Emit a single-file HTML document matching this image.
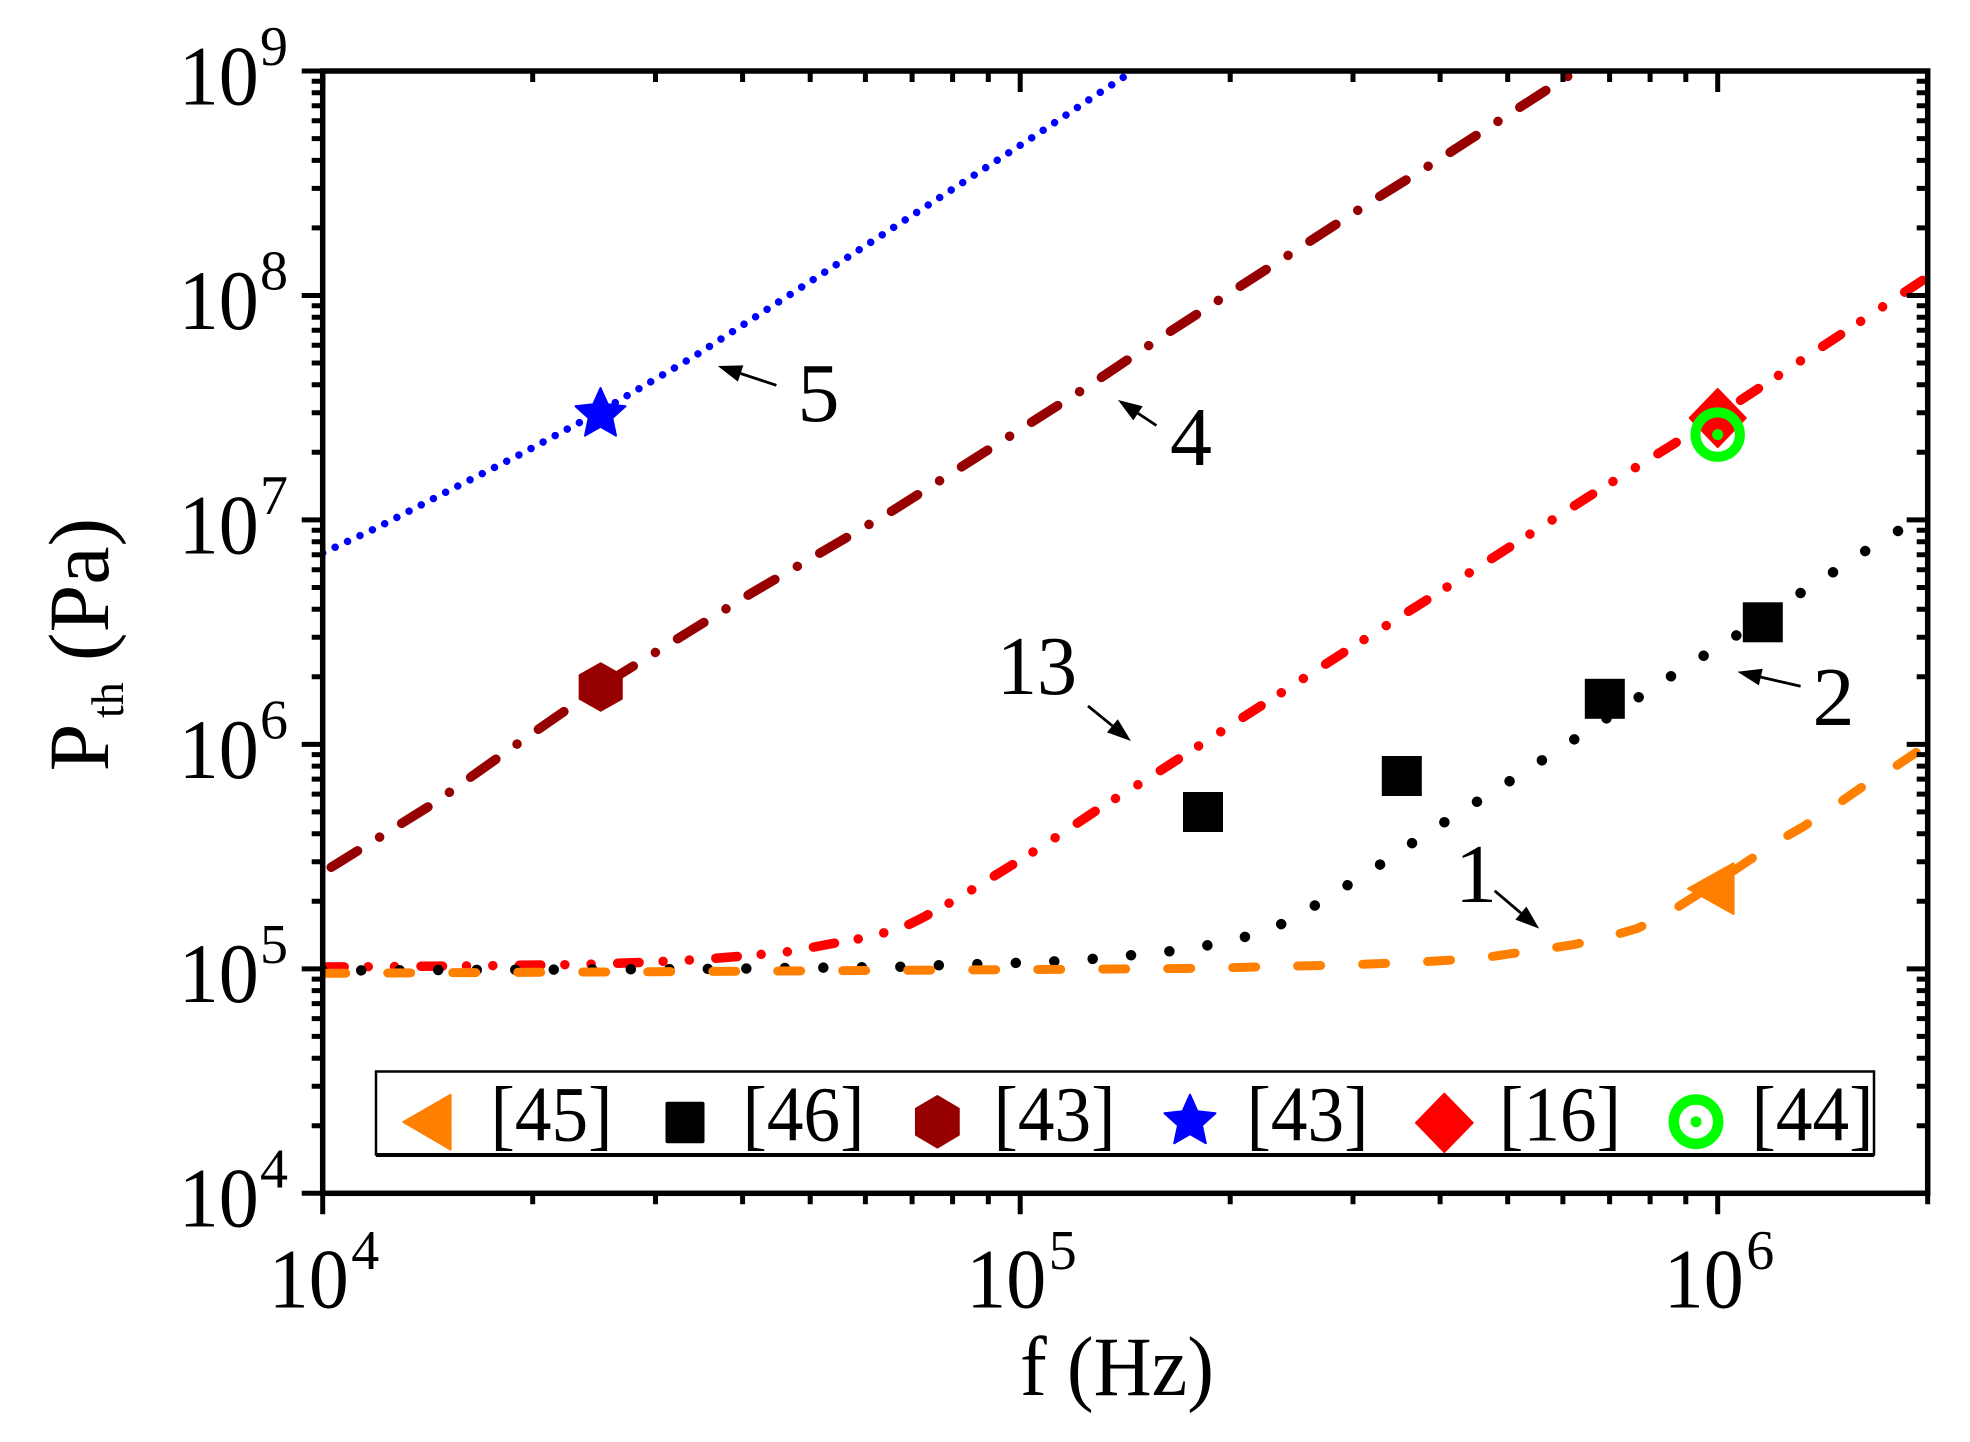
<!DOCTYPE html>
<html>
<head>
<meta charset="utf-8">
<style>
html,body{margin:0;padding:0;background:#fff;}
svg{display:block;}
text{font-family:"Liberation Serif","Times New Roman",serif;fill:#000;}
</style>
</head>
<body>
<svg xmlns="http://www.w3.org/2000/svg" width="1970" height="1442" viewBox="0 0 1970 1442">
<rect x="0" y="0" width="1970" height="1442" fill="#fff"/>
<defs>
<clipPath id="pa"><rect x="322.7" y="71" width="1605" height="1122.3"/></clipPath>
</defs>

<!-- curves -->
<g clip-path="url(#pa)" fill="none" stroke-linecap="round" stroke-linejoin="round">
<path stroke="#0000ff" stroke-width="7.5" stroke-dasharray="0.01 13.7" d="M322.7,553 L377.4,527.5 L452,489 L518,455.5 L600.1,411.5 L693.1,357 L808,283 L922.8,208.5 L1037.6,134 L1093.6,96.7 L1133,71 L1140,66"/>
<path stroke="#960000" stroke-width="9.5" stroke-dasharray="31 26 0.01 26" stroke-dashoffset="-10" d="M322.7,872.5 L338.4,862.8 L434.8,802.7 L520,742 L600.1,686.6 L750,594 L894,509.8 L1090,385 L1159.6,338.3 L1229.3,293.3 L1299,248.3 L1368.6,203.3 L1438.2,160 L1507.9,115 L1576,71 L1590,62"/>
<path stroke="#ff0000" stroke-width="9.5" stroke-dasharray="21.5 24 0.01 26.3 0.01 26.5" d="M322.7,967 L400,966.5 L500,965.5 L580,964.5 L640,962.5 L700,959.5 L750,955.5 L790,951.5 L830,944 L866,937.5 L891,931 L910,924 L923,917.5 L940,908 L955,900 L975.6,887.5 L1008.8,867 L1039.4,848 L1070,828 L1100,808 L1148,778.5 L1260.7,706 L1343.7,652.5 L1426.7,600 L1509.7,547 L1592.8,494 L1678.5,441 L1761.5,386.5 L1844.5,332 L1927.7,277 L1940,269"/>
<path stroke="#000000" stroke-width="10.5" stroke-dasharray="0.01 38.5" d="M322.7,970.5 L700,969 L907,966.7 L945,965 L983,964 L1023,962.7 L1062,961 L1101,958.3 L1178,950.4 L1215,944 L1252.6,935 L1288.5,921.4 L1320.7,902 L1355.5,880.2 L1387.6,859.8 L1420.3,837.5 L1452.4,817.1 L1485.6,796.3 L1517.8,776 L1551.5,754.1 L1583.7,733.3 L1648,691.1 L1679.5,670.8 L1712.2,650.4 L1744.3,630.5 L1811.3,585.9 L1844.5,565.1 L1876.6,543.3 L1910.4,523.9 L1927.7,513 L1940,505"/>
<path stroke="#ff8000" stroke-width="9" stroke-dasharray="23 42" d="M322.7,973.3 L700,971.5 L1065,969.3 L1145,968.8 L1212,968.2 L1277,966.4 L1344,965 L1410,962.5 L1478,958.5 L1510,953.8 L1542,949.5 L1574,944.6 L1606,937.4 L1637,928.6 L1665,915 L1700,893 L1720,880 L1748,861 L1777.5,841.4 L1803,826.8 L1834,806.5 L1860.6,788 L1887.3,772 L1916.8,752 L1927.7,745 L1940,737"/>
</g>

<!-- plot markers -->
<g stroke-linejoin="round">
<polygon fill="#0000ff" stroke="#0000ff" stroke-width="2" points="600.5,388 607.8,404.3 625.5,406.2 612.3,418.1 616,435.6 600.5,426.7 585,435.6 588.7,418.1 575.5,406.2 593.2,404.3"/>
<polygon fill="#960000" stroke="#960000" stroke-width="1.5" points="600.7,663 622,675 622,699 600.7,711 579.4,699 579.4,675"/>
<rect x="1183" y="792" width="40" height="40" fill="#000"/>
<rect x="1381.8" y="756" width="40" height="40" fill="#000"/>
<rect x="1584.8" y="678.8" width="40" height="40" fill="#000"/>
<rect x="1742.8" y="602.3" width="40" height="40" fill="#000"/>
<polygon fill="#ff8000" stroke="#ff8000" stroke-width="2" points="1688,888.6 1733.6,863.2 1733.6,914"/>
<polygon fill="#ff0000" stroke="#ff0000" stroke-width="2" points="1717.7,389 1745.7,418 1717.7,447 1689.7,418"/>
<circle cx="1717.7" cy="434.6" r="22.2" fill="none" stroke="#00ff00" stroke-width="10"/>
<circle cx="1717.7" cy="434.6" r="5.5" fill="#00ff00"/>
</g>

<!-- axes frame -->
<rect x="322.7" y="71" width="1605" height="1122.3" fill="none" stroke="#000" stroke-width="5.5"/>

<!-- ticks -->
<g stroke="#000" stroke-width="5" fill="none">
<path d="M301.7,71 H322.7 M301.7,295.46 H322.7 M301.7,519.92 H322.7 M301.7,744.38 H322.7 M301.7,968.84 H322.7 M301.7,1193.3 H322.7"/>
<path d="M311.7,1125.7 H322.7 M311.7,1086.2 H322.7 M311.7,1058.2 H322.7 M311.7,1036.4 H322.7 M311.7,1018.6 H322.7 M311.7,1003.6 H322.7 M311.7,990.6 H322.7 M311.7,979.1 H322.7
M311.7,901.2 H322.7 M311.7,861.7 H322.7 M311.7,833.7 H322.7 M311.7,811.9 H322.7 M311.7,794.1 H322.7 M311.7,779.1 H322.7 M311.7,766.1 H322.7 M311.7,754.6 H322.7
M311.7,676.8 H322.7 M311.7,637.3 H322.7 M311.7,609.3 H322.7 M311.7,587.5 H322.7 M311.7,569.7 H322.7 M311.7,554.7 H322.7 M311.7,541.7 H322.7 M311.7,530.2 H322.7
M311.7,452.3 H322.7 M311.7,412.8 H322.7 M311.7,384.8 H322.7 M311.7,363 H322.7 M311.7,345.2 H322.7 M311.7,330.2 H322.7 M311.7,317.2 H322.7 M311.7,305.7 H322.7
M311.7,227.9 H322.7 M311.7,188.4 H322.7 M311.7,160.4 H322.7 M311.7,138.6 H322.7 M311.7,120.8 H322.7 M311.7,105.8 H322.7 M311.7,92.8 H322.7 M311.7,81.3 H322.7"/>
<path d="M1906.7,71 H1927.7 M1906.7,295.46 H1927.7 M1906.7,519.92 H1927.7 M1906.7,744.38 H1927.7 M1906.7,968.84 H1927.7 M1906.7,1193.3 H1927.7"/>
<path d="M1916.7,1125.7 H1927.7 M1916.7,1086.2 H1927.7 M1916.7,1058.2 H1927.7 M1916.7,1036.4 H1927.7 M1916.7,1018.6 H1927.7 M1916.7,1003.6 H1927.7 M1916.7,990.6 H1927.7 M1916.7,979.1 H1927.7
M1916.7,901.2 H1927.7 M1916.7,861.7 H1927.7 M1916.7,833.7 H1927.7 M1916.7,811.9 H1927.7 M1916.7,794.1 H1927.7 M1916.7,779.1 H1927.7 M1916.7,766.1 H1927.7 M1916.7,754.6 H1927.7
M1916.7,676.8 H1927.7 M1916.7,637.3 H1927.7 M1916.7,609.3 H1927.7 M1916.7,587.5 H1927.7 M1916.7,569.7 H1927.7 M1916.7,554.7 H1927.7 M1916.7,541.7 H1927.7 M1916.7,530.2 H1927.7
M1916.7,452.3 H1927.7 M1916.7,412.8 H1927.7 M1916.7,384.8 H1927.7 M1916.7,363 H1927.7 M1916.7,345.2 H1927.7 M1916.7,330.2 H1927.7 M1916.7,317.2 H1927.7 M1916.7,305.7 H1927.7
M1916.7,227.9 H1927.7 M1916.7,188.4 H1927.7 M1916.7,160.4 H1927.7 M1916.7,138.6 H1927.7 M1916.7,120.8 H1927.7 M1916.7,105.8 H1927.7 M1916.7,92.8 H1927.7 M1916.7,81.3 H1927.7"/>
<path d="M322.7,1193.3 V1214.3 M1020.2,1193.3 V1214.3 M1717.7,1193.3 V1214.3"/>
<path d="M532.7,1193.3 V1204.3 M655.5,1193.3 V1204.3 M742.6,1193.3 V1204.3 M810.2,1193.3 V1204.3 M865.4,1193.3 V1204.3 M912.1,1193.3 V1204.3 M952.6,1193.3 V1204.3 M988.3,1193.3 V1204.3 M1230.2,1193.3 V1204.3 M1353,1193.3 V1204.3 M1440.1,1193.3 V1204.3 M1507.7,1193.3 V1204.3 M1562.9,1193.3 V1204.3 M1609.6,1193.3 V1204.3 M1650.1,1193.3 V1204.3 M1685.8,1193.3 V1204.3 M1927.7,1193.3 V1204.3"/>
<path d="M322.7,71 V92 M1020.2,71 V92 M1717.7,71 V92"/>
<path d="M532.7,71 V82 M655.5,71 V82 M742.6,71 V82 M810.2,71 V82 M865.4,71 V82 M912.1,71 V82 M952.6,71 V82 M988.3,71 V82 M1230.2,71 V82 M1353,71 V82 M1440.1,71 V82 M1507.7,71 V82 M1562.9,71 V82 M1609.6,71 V82 M1650.1,71 V82 M1685.8,71 V82"/>
</g>

<!-- y tick labels -->
<g>
<text x="178.8" y="104.4" font-size="85" textLength="80" lengthAdjust="spacingAndGlyphs">10</text><text x="260" y="65" font-size="56">9</text>
<text x="178.8" y="328.9" font-size="85" textLength="80" lengthAdjust="spacingAndGlyphs">10</text><text x="260" y="289.5" font-size="56">8</text>
<text x="178.8" y="553.3" font-size="85" textLength="80" lengthAdjust="spacingAndGlyphs">10</text><text x="260" y="513.9" font-size="56">7</text>
<text x="178.8" y="777.8" font-size="85" textLength="80" lengthAdjust="spacingAndGlyphs">10</text><text x="260" y="738.4" font-size="56">6</text>
<text x="178.8" y="1002.2" font-size="85" textLength="80" lengthAdjust="spacingAndGlyphs">10</text><text x="260" y="962.8" font-size="56">5</text>
<text x="178.8" y="1226.7" font-size="85" textLength="80" lengthAdjust="spacingAndGlyphs">10</text><text x="260" y="1187.3" font-size="56">4</text>
</g>

<!-- x tick labels -->
<g>
<text x="268.7" y="1307.7" font-size="85" textLength="80" lengthAdjust="spacingAndGlyphs">10</text><text x="351.2" y="1269" font-size="56">4</text>
<text x="966.2" y="1307.7" font-size="85" textLength="80" lengthAdjust="spacingAndGlyphs">10</text><text x="1048.7" y="1269" font-size="56">5</text>
<text x="1663.7" y="1307.7" font-size="85" textLength="80" lengthAdjust="spacingAndGlyphs">10</text><text x="1746.2" y="1269" font-size="56">6</text>
</g>

<!-- axis titles -->
<text x="1020" y="1395" font-size="85" textLength="194" lengthAdjust="spacingAndGlyphs">f (Hz)</text>
<g transform="translate(108,770) rotate(-90)">
<text x="-1.4" y="0" font-size="86">P</text>
<text x="52" y="15" font-size="46">th</text>
<text x="108.9" y="0" font-size="86">(Pa)</text>
</g>

<!-- curve labels -->
<g font-size="84">
<text x="797.5" y="421">5</text>
<text x="1170" y="465">4</text>
<text x="997" y="694" textLength="80" lengthAdjust="spacingAndGlyphs">13</text>
<text x="1812.5" y="725">2</text>
<text x="1455" y="902">1</text>
</g>

<!-- arrows -->
<g stroke="#000" stroke-width="2.8" fill="none">
<path d="M776.4,385.3 L740.6,373.5"/>
<path d="M1156.4,425.5 L1138,413.3"/>
<path d="M1088,706 L1112.4,725.8"/>
<path d="M1800.6,686.3 L1760.8,677.1"/>
<path d="M1494.7,890.8 L1520.9,913.1"/>
</g>
<g fill="#000">
<polygon points="717.8,366 743.3,365.4 737.9,381.6"/>
<polygon points="1118,400 1142.7,406.2 1133.3,420.4"/>
<polygon points="1131,741 1107,732.4 1117.8,719.2"/>
<polygon points="1737.4,671.7 1762.7,668.8 1758.9,685.4"/>
<polygon points="1539.2,928.6 1515.4,919.6 1526.4,906.6"/>
</g>

<!-- legend -->
<rect x="376" y="1071.5" width="1498" height="83" fill="#fff" stroke="#000" stroke-width="2.5"/>
<path d="M376,1155 H1874" stroke="#000" stroke-width="4"/>
<g stroke-linejoin="round">
<polygon fill="#ff8000" stroke="#ff8000" stroke-width="2" points="403.4,1122 450.6,1094.7 450.6,1149.6"/>
<rect x="665.5" y="1101.7" width="39" height="41.6" rx="2" fill="#000"/>
<polygon fill="#960000" stroke="#960000" stroke-width="1.5" points="937.4,1095.8 959,1108.5 959,1135 937.4,1147.8 915.7,1135 915.7,1108.5"/>
<polygon fill="#0000ff" stroke="#0000ff" stroke-width="2" points="1190,1094.7 1197.4,1111.3 1215.5,1113.2 1202,1125.4 1205.8,1143.2 1190,1134.1 1174.2,1143.2 1178,1125.4 1164.5,1113.2 1182.6,1111.3"/>
<polygon fill="#ff0000" stroke="#ff0000" stroke-width="2" points="1444.3,1093.7 1472.7,1122.8 1444.3,1152 1416,1122.8"/>
<circle cx="1696" cy="1121.7" r="22.2" fill="none" stroke="#00ff00" stroke-width="10.5"/>
<circle cx="1696" cy="1121.7" r="5.5" fill="#00ff00"/>
</g>
<g font-size="78">
<text x="490.5" y="1140.5" textLength="122" lengthAdjust="spacingAndGlyphs">[45]</text>
<text x="742.5" y="1140.5" textLength="122" lengthAdjust="spacingAndGlyphs">[46]</text>
<text x="993.5" y="1140.5" textLength="122" lengthAdjust="spacingAndGlyphs">[43]</text>
<text x="1246.5" y="1140.5" textLength="122" lengthAdjust="spacingAndGlyphs">[43]</text>
<text x="1499" y="1140.5" textLength="122" lengthAdjust="spacingAndGlyphs">[16]</text>
<text x="1751.5" y="1140.5" textLength="122" lengthAdjust="spacingAndGlyphs">[44]</text>
</g>
</svg>
</body>
</html>
